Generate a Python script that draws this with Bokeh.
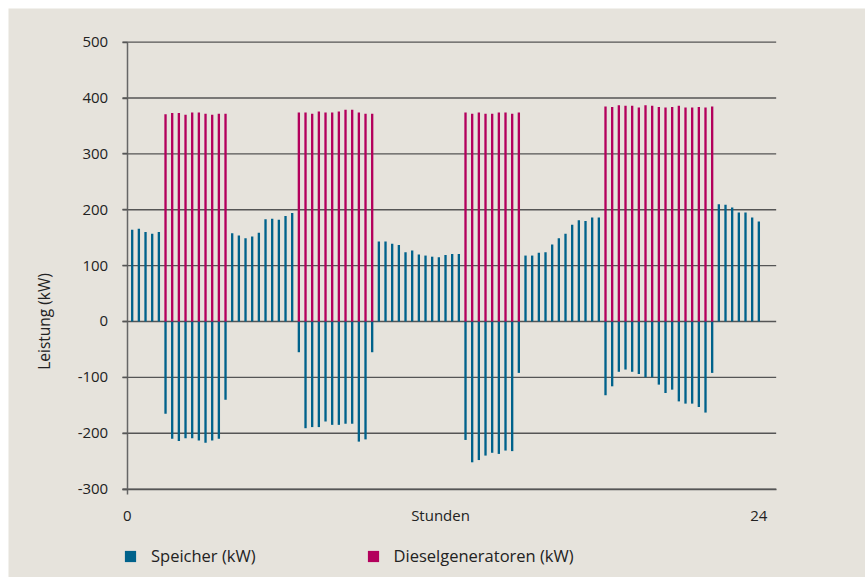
from bokeh.plotting import figure
from bokeh.models import FixedTicker, Legend, LegendItem, Label
from bokeh.embed import file_html
from bokeh.resources import INLINE
import math

# ---- data (95 quarter-hour steps) ----
speicher = [
    164, 166, 160, 157, 160,
    -165, -210, -214, -209, -209, -213, -217, -213, -210, -140,
    158, 154, 149, 152, 159, 183, 184, 182, 189, 194,
    -55, -191, -189, -189, -179, -185, -185, -183, -183, -215, -211, -55,
    143, 143, 139, 137, 124, 127, 120, 118, 116, 115, 119, 121, 121,
    -212, -252, -248, -240, -235, -237, -231, -232, -92,
    118, 118, 123, 124, 138, 149, 157, 173, 181, 180, 186, 186,
    -132, -116, -90, -86, -90, -94, -100, -100, -113, -128, -122, -143, -147, -147, -153, -163, -92,
    210, 209, 204, 195, 195, 186, 179,
]
diesel = [
    0, 0, 0, 0, 0,
    371, 373, 373, 370, 374, 374, 372, 370, 372, 372,
    0, 0, 0, 0, 0, 0, 0, 0, 0, 0,
    374, 374, 372, 376, 374, 374, 376, 379, 379, 374, 372, 372,
    0, 0, 0, 0, 0, 0, 0, 0, 0, 0, 0, 0, 0,
    374, 372, 374, 372, 372, 374, 374, 372, 374,
    0, 0, 0, 0, 0, 0, 0, 0, 0, 0, 0, 0,
    385, 384, 387, 386, 386, 383, 387, 386, 384, 383, 384, 386, 383, 383, 384, 383, 385,
    0, 0, 0, 0, 0, 0, 0,
]
steps = list(range(len(speicher)))
y_ticks = [-300, -200, -100, 0, 100, 200, 300, 400, 500]
y_tick_labels = ["-300", "-200", "-100", "0", "100", "200", "300", "400", "500"]
x_tick_pos = [-0.75, 46.25, 94]
x_tick_labels = ["0", "Stunden", "24"]
series_names = ["Speicher (kW)", "Dieselgeneratoren (kW)"]
y_title = "Leistung (kW)"

BLUE = "#00628b"
PINK = "#b3005c"
BG = "#e6e3dc"
GRID = "#555555"
TXT = "#222222"
FONT = "Open Sans"

X0, X1 = -0.75, 96.6          # plotted area (axis start / grid end)
Y0, Y1 = -300, 500

p = figure(width=857, height=569, output_backend="svg", toolbar_location=None,
           x_range=(-18.555, 110.0), y_range=(-458.2, 560.2),
           min_border_left=0, min_border_right=0,
           min_border_top=0, min_border_bottom=0)
p.margin = (8, 0, 0, 8)
p.background_fill_color = BG
p.border_fill_color = BG
p.outline_line_color = None

# horizontal grid lines limited to the plotting area
p.xgrid.visible = False
p.ygrid.visible = False
p.segment(x0=[X0 - 0.7] * len(y_ticks), x1=[X1] * len(y_ticks),
          y0=y_ticks, y1=y_ticks, line_color=GRID, line_width=1.3)

r_blue = p.vbar(x=steps, top=speicher, bottom=0, width=0.35,
                fill_color=BLUE, line_color=None)
r_pink = p.vbar(x=steps, top=diesel, bottom=0, width=0.35,
                fill_color=PINK, line_color=None)

# axes at fixed data positions
yax = p.yaxis[0]
yax.fixed_location = X0
yax.bounds = (Y0, Y1)
yax.ticker = FixedTicker(ticks=y_ticks)
yax.major_label_overrides = {k: v for k, v in zip(y_ticks, y_tick_labels)}
yax.axis_line_color = "#666666"
yax.axis_line_width = 1.5
yax.major_tick_line_color = GRID
yax.major_tick_line_width = 1.3
yax.major_tick_out = 5
yax.major_tick_in = 0
yax.minor_tick_line_color = None
yax.major_label_standoff = 14
yax.major_label_text_font = FONT
yax.major_label_text_font_size = "15px"
yax.major_label_text_color = TXT

xax = p.xaxis[0]
xax.fixed_location = Y0
xax.bounds = (X0 - 0.7, X1)
xax.ticker = FixedTicker(ticks=x_tick_pos, minor_ticks=[X0])
xax.major_label_overrides = {k: v for k, v in zip(x_tick_pos, x_tick_labels)}
xax.axis_line_color = GRID
xax.axis_line_width = 1.3
xax.major_tick_out = 0
xax.major_tick_in = 0
xax.minor_tick_out = 5
xax.minor_tick_in = 0
xax.minor_tick_line_color = "#666666"
xax.minor_tick_line_width = 1.5
xax.major_label_standoff = 11
xax.major_label_text_font = FONT
xax.major_label_text_font_size = "15px"
xax.major_label_text_color = TXT

# y title centred on the zero line
p.add_layout(Label(x=-13.3, y=0, text=y_title, angle=math.pi / 2,
                   text_align="center", text_baseline="middle",
                   text_font=FONT, text_font_size="15.5px", text_color=TXT))

legend = Legend(items=[LegendItem(label=series_names[0], renderers=[r_blue]),
                       LegendItem(label=series_names[1], renderers=[r_pink])],
                orientation="horizontal", location=(115, 10),
                glyph_width=14, glyph_height=14, label_standoff=14,
                spacing=110, padding=0, margin=0,
                border_line_color=None, background_fill_alpha=0,
                label_text_font=FONT, label_text_font_size="16.5px",
                label_text_color=TXT, label_height=20)
p.add_layout(legend, "center")

open("out.html", "w").write(file_html(p, INLINE))
